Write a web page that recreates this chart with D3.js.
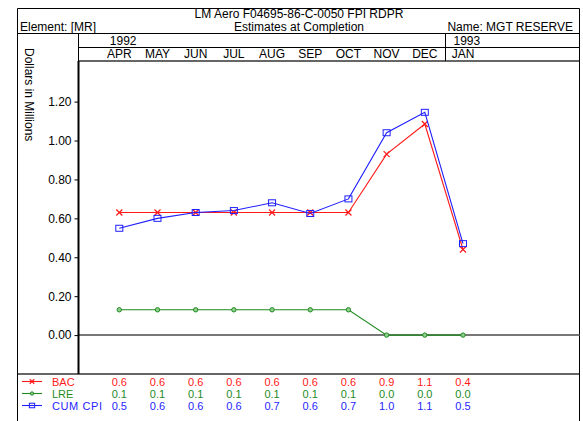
<!DOCTYPE html>
<html>
<head>
<meta charset="utf-8">
<script src="https://cdn.jsdelivr.net/npm/d3@7"></script>
<style>
  body { margin: 0; background: #fff; }
  svg { display: block; font-family: "Liberation Sans", Arial, sans-serif; }
</style>
</head>
<body>
<div id="chart"></div>
<script>
// chart data
const months = ["APR", "MAY", "JUN", "JUL", "AUG", "SEP", "OCT", "NOV", "DEC", "JAN"];
const years = [{label: "1992", month: "APR"}, {label: "1993", month: "JAN"}];
const bac = [0.63, 0.63, 0.63, 0.63, 0.63, 0.63, 0.63, 0.93, 1.085, 0.44];
const lre = [0.13, 0.13, 0.13, 0.13, 0.13, 0.13, 0.13, 0.0, 0.0, 0.0];
const cumCpi = [0.549, 0.60, 0.63, 0.64, 0.68, 0.625, 0.70, 1.04, 1.145, 0.47];
const yTicks = [0, 0.2, 0.4, 0.6, 0.8, 1.0, 1.2];

const series = [
    {name: "BAC", values: bac, color: "#ff1a1a", marker: "x"},
    {name: "LRE", values: lre, color: "#1f8a1f", marker: "circle"},
    {name: "CUM CPI", values: cumCpi, color: "#1f1fff", marker: "square"}
];

const W = 583, H = 421;
const box = {left: 17.5, right: 579.5, top: 8.5};
const plot = {left: 78.5, top: 61, bottom: 374};

const svg = d3.select("#chart").append("svg")
    .attr("width", W)
    .attr("height", H);

// scales
const x = d3.scalePoint()
    .domain(months)
    .range([119.3, 463]);
const y = d3.scaleLinear()
    .domain([-0.2, 1.4])
    .range([374, 62.7]);

// frame lines
function hline(y0, x1, x2, color, w) {
    svg.append("line").attr("x1", x1).attr("x2", x2).attr("y1", y0).attr("y2", y0)
        .attr("stroke", color).attr("stroke-width", w);
}
function vline(x0, y1, y2, color, w) {
    svg.append("line").attr("x1", x0).attr("x2", x0).attr("y1", y1).attr("y2", y2)
        .attr("stroke", color).attr("stroke-width", w);
}
hline(box.top, box.left, box.right, "#000", 1);
hline(33.5, box.left, box.right, "#000", 1);
hline(47.5, plot.left, box.right, "#000", 1);
hline(61, plot.left, box.right, "#666", 2);
hline(plot.bottom, box.left, box.right, "#666", 2);
vline(box.left, box.top, H, "#000", 1);
vline(box.right, box.top, H, "#000", 1);
vline(plot.left, 33.5, 61, "#000", 1);
vline(445.5, 33.5, 61, "#000", 1);

// titles
svg.append("text").attr("x", 299).attr("y", 18).attr("text-anchor", "middle")
    .attr("font-size", 12).text("LM Aero F04695-86-C-0050 FPI RDPR");
svg.append("text").attr("x", 299).attr("y", 30.5).attr("text-anchor", "middle")
    .attr("font-size", 12).text("Estimates at Completion");
svg.append("text").attr("x", 20).attr("y", 30.5)
    .attr("font-size", 12).text("Element: [MR]");
svg.append("text").attr("x", 573).attr("y", 30.5).attr("text-anchor", "end")
    .attr("font-size", 12).text("Name: MGT RESERVE");

// year and month header
svg.selectAll(".year").data(years).enter().append("text")
    .attr("class", "year")
    .attr("x", d => x(d.month) - 9.5)
    .attr("y", 44.5)
    .attr("font-size", 12)
    .text(d => d.label);
svg.selectAll(".month").data(months).enter().append("text")
    .attr("class", "month")
    .attr("x", d => x(d))
    .attr("y", 58)
    .attr("text-anchor", "middle")
    .attr("font-size", 12)
    .text(d => d);

// y axis title
svg.append("text")
    .attr("transform", "translate(25,48) rotate(90)")
    .attr("font-size", 12)
    .text("Dollars in Millions");

// y axis
const yAxis = d3.axisLeft(y)
    .tickValues(yTicks)
    .tickFormat(d3.format(".2f"))
    .tickSize(4)
    .tickPadding(3);
const gy = svg.append("g")
    .attr("transform", `translate(${plot.left},0)`)
    .call(yAxis);
gy.select(".domain").remove();
gy.selectAll("text").attr("font-size", 12).attr("font-family", "Liberation Sans, Arial, sans-serif").attr("fill", "#000");
gy.selectAll("line").attr("stroke", "#000");

// zero line
hline(y(0), plot.left, box.right, "#777", 2);
vline(plot.left, plot.top, plot.bottom, "#000", 2);

// markers
function drawMarker(g, type, cx, cy, color, s) {
    s = s || 1;
    if (type === "x") {
        g.append("path")
            .attr("d", `M${cx - 3 * s},${cy - 3 * s}L${cx + 3 * s},${cy + 3 * s}M${cx - 3 * s},${cy + 3 * s}L${cx + 3 * s},${cy - 3 * s}`)
            .attr("stroke", color).attr("stroke-width", 1.2).attr("fill", "none");
    } else if (type === "circle") {
        g.append("circle").attr("cx", cx).attr("cy", cy).attr("r", 2.2 * s)
            .attr("stroke", color).attr("stroke-width", 1).attr("fill", "#8fcf8f");
    } else {
        g.append("rect").attr("x", cx - 3.5 * s).attr("y", cy - 3 * s).attr("width", 7 * s).attr("height", 6 * s)
            .attr("stroke", color).attr("stroke-width", 1).attr("fill", "none");
    }
}

const line = d3.line()
    .x((d, i) => x(months[i]))
    .y(d => y(d));

series.forEach(s => {
    const g = svg.append("g");
    g.append("path")
        .datum(s.values)
        .attr("d", line)
        .attr("fill", "none")
        .attr("stroke", s.color)
        .attr("stroke-width", 1.1);
    s.values.forEach((v, i) => drawMarker(g, s.marker, x(months[i]), y(v), s.color));
});

// footer legend + values table
const fmt = d3.format(".1f");
series.forEach((s, r) => {
    const base = 385.5 + r * 12;
    const g = svg.append("g");
    g.append("line").attr("x1", 22).attr("x2", 42).attr("y1", base - 4).attr("y2", base - 4)
        .attr("stroke", s.color).attr("stroke-width", 1.1);
    drawMarker(g, s.marker, 32, base - 4, s.color, 0.75);
    g.append("text").attr("x", 52).attr("y", base)
        .attr("font-size", 11).attr("textLength", s.name.length > 3 ? 50 : null)
        .attr("fill", s.color).text(s.name);
    g.selectAll(".val").data(s.values).enter().append("text")
        .attr("x", (d, i) => x(months[i]))
        .attr("y", base)
        .attr("text-anchor", "middle")
        .attr("font-size", 11)
        .attr("fill", s.color)
        .text(d => fmt(d));
});
</script>
</body>
</html>
